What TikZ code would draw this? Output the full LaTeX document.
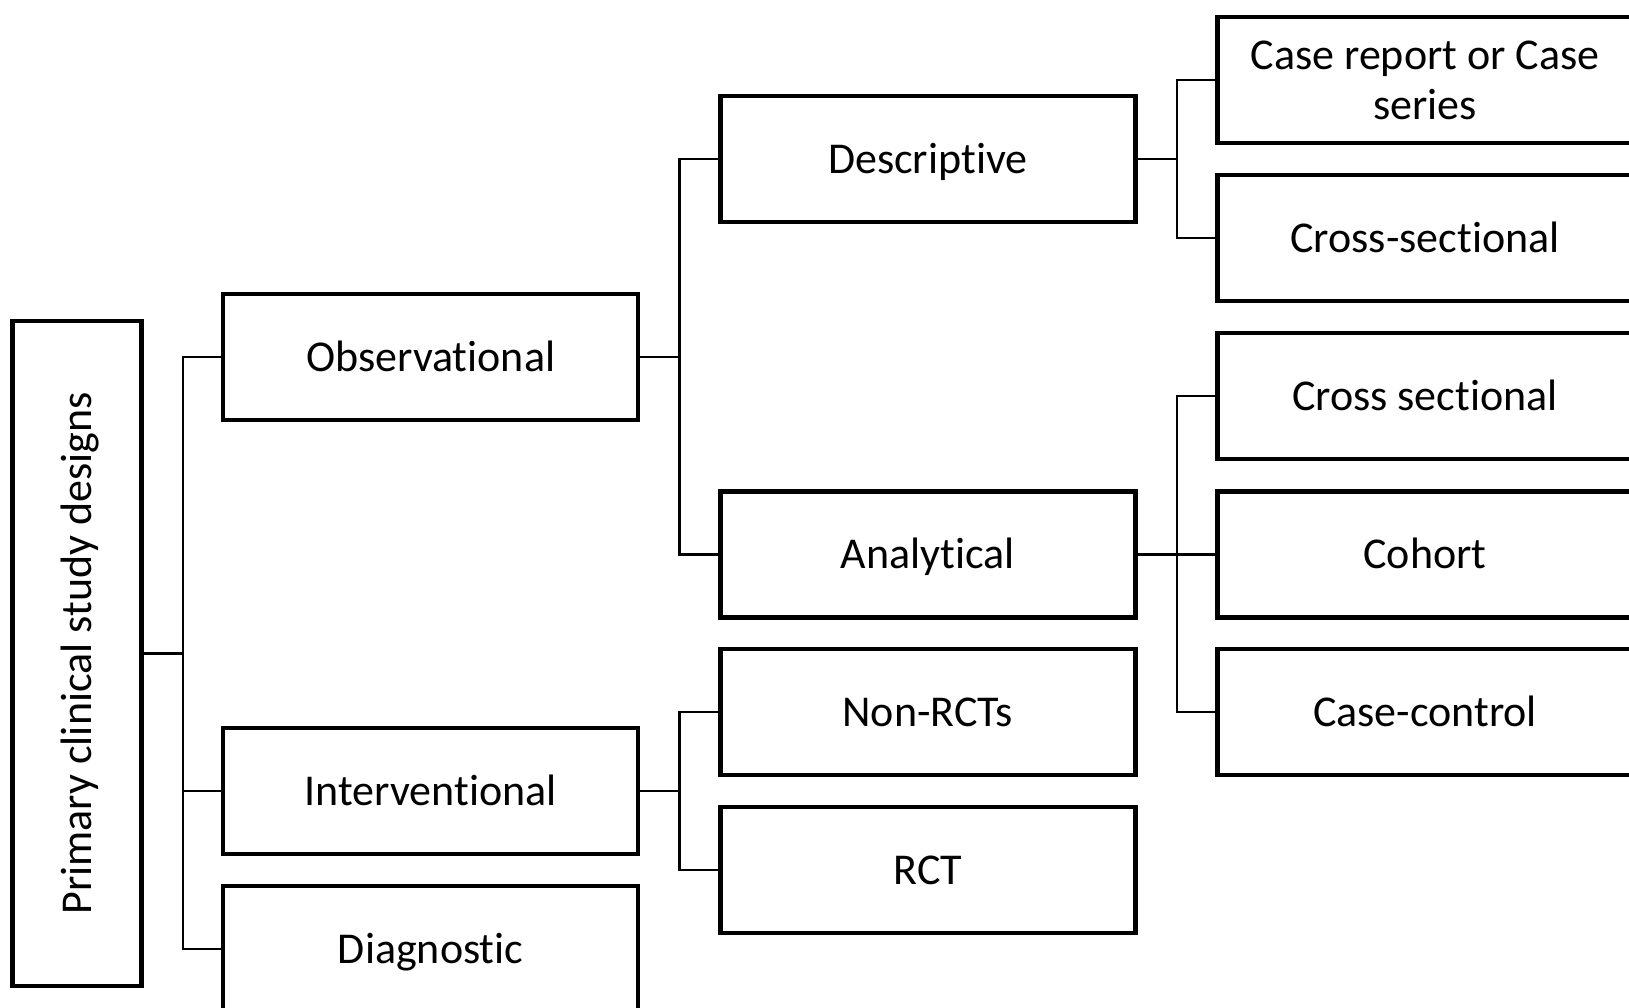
\documentclass[tikz,border=0pt]{standalone}
\usepackage{fontspec}
\setmainfont{Carlito}[Ligatures={NoCommon,NoContextual},RawFeature={-liga;-clig}]
\begin{document}
\begin{tikzpicture}[x=1pt,y=1pt,
  box/.style={draw=black, line width=4.4pt, fill=white, inner sep=0pt,
    minimum width=415pt, minimum height=126pt,
    font=\fontsize{44}{50}\selectfont, text height=28.5pt, text depth=0pt},
  conn/.style={draw=black, line width=2.4pt}]
\useasboundingbox (0,0) rectangle (1629,-1008);
\clip (0,0) rectangle (1629,-1008);
% bus coordinates
\coordinate (b1) at (182.8,0);
\coordinate (b2) at (679.4,0);
\coordinate (b3) at (1177,0);
% boxes
\node[box, minimum width=665pt, minimum height=128.8pt, rotate=90] (prim) at (77,-653.5) {Primary clinical study designs};
\node[box] (obs) at (430.7,-357) {Observational};
\node[box] (int) at (430.7,-791) {Interventional};
\node[box] (diag) at (430.7,-949) {Diagnostic};
\node[box] (desc) at (927.8,-159) {Descriptive};
\node[box] (ana) at (927.8,-554.5) {Analytical};
\node[box] (nrct) at (927.8,-712) {Non-RCTs};
\node[box] (rct) at (927.8,-870) {RCT};
\node[box, text height=, text depth=, align=center] (cr) at (1425,-80) {Case report or Case\\series};
\node[box] (cs1) at (1425,-238) {Cross-sectional};
\node[box] (cs2) at (1425,-396) {Cross sectional};
\node[box] (coh) at (1425,-554.5) {Cohort};
\node[box] (cc) at (1425,-712) {Case-control};
% level 1
\draw[conn] (prim.south) -- (prim.south -| b1);
\draw[conn] (obs.west) -- (obs.west -| b1) |- (diag.west);
\draw[conn] (int.west) -- (int.west -| b1);
% observational
\draw[conn] (obs.east) -- (obs.east -| b2);
\draw[conn] (desc.west) -- (desc.west -| b2) |- (ana.west);
% interventional
\draw[conn] (int.east) -- (int.east -| b2);
\draw[conn] (nrct.west) -- (nrct.west -| b2) |- (rct.west);
% descriptive
\draw[conn] (desc.east) -- (desc.east -| b3);
\draw[conn] (cr.west) -- (cr.west -| b3) |- (cs1.west);
% analytical
\draw[conn] (ana.east) -- (coh.west);
\draw[conn] (cs2.west) -- (cs2.west -| b3) |- (cc.west);
\end{tikzpicture}
\end{document}
